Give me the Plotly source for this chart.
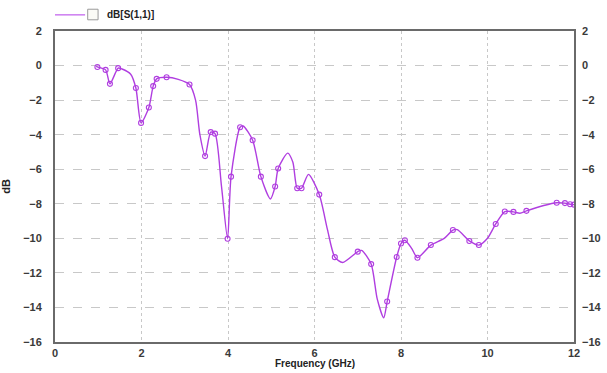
import plotly.graph_objects as go

# S11 return loss trace (frequency in GHz, magnitude in dB)
freq_ghz = [0.95, 0.98, 1.17, 1.27, 1.46, 1.55, 1.75, 1.87, 1.99, 2.17, 2.27, 2.35,
            2.58, 2.85, 3.11, 3.25, 3.35, 3.47, 3.6, 3.7, 3.85, 3.99, 4.07, 4.28,
            4.35, 4.57, 4.76, 4.98, 5.09, 5.16, 5.38, 5.5, 5.6, 5.7, 5.86, 6.11,
            6.3, 6.47, 6.65, 7.0, 7.09, 7.31, 7.45, 7.6, 7.68, 7.9, 8.0, 8.09,
            8.25, 8.38, 8.69, 9.0, 9.2, 9.3, 9.58, 9.8, 10.0, 10.19, 10.4, 10.6,
            10.75, 10.9, 11.3, 11.6, 11.79, 11.91, 12.0]
s11_db = [-0.05, -0.08, -0.25, -1.06, -0.15, -0.2, -0.5, -1.3, -3.32, -2.43, -1.19, -0.77,
          -0.68, -0.8, -1.1, -2.0, -4.0, -5.24, -3.85, -3.94, -7.0, -10.02, -6.43, -3.57,
          -3.5, -4.32, -6.43, -7.72, -7.0, -5.96, -5.07, -5.6, -7.1, -7.1, -6.3, -7.47,
          -9.5, -11.09, -11.4, -10.77, -10.7, -11.49, -13.5, -14.6, -13.66, -11.08, -10.3, -10.11,
          -10.6, -11.12, -10.39, -10.0, -9.52, -9.5, -10.15, -10.39, -10.0, -9.17, -8.45, -8.47,
          -8.55, -8.41, -8.1, -7.94, -7.96, -8.03, -8.05]

# Sampled solution points shown with markers
marker_ghz = [0.98, 1.17, 1.27, 1.46, 1.87, 1.99, 2.17, 2.27, 2.35, 2.58, 3.11, 3.47,
              3.6, 3.7, 3.99, 4.07, 4.28, 4.57, 4.76, 5.09, 5.16, 5.6, 5.7, 6.11,
              6.47, 7.0, 7.31, 7.68, 7.9, 8.0, 8.09, 8.38, 8.69, 9.2, 9.58, 9.8,
              10.19, 10.4, 10.6, 10.9, 11.6, 11.79, 11.91, 12.0]
marker_db = [-0.08, -0.25, -1.06, -0.15, -1.3, -3.32, -2.43, -1.19, -0.77, -0.68, -1.1, -5.24,
             -3.85, -3.94, -10.02, -6.43, -3.57, -4.32, -6.43, -7.0, -5.96, -7.1, -7.1, -7.47,
             -11.09, -10.77, -11.49, -13.66, -11.08, -10.3, -10.11, -11.12, -10.39, -9.52, -10.15, -10.39,
             -9.17, -8.45, -8.47, -8.41, -7.94, -7.96, -8.03, -8.05]

x_ticks = [0, 2, 4, 6, 8, 10, 12]
y_ticks = [2, 0, -2, -4, -6, -8, -10, -12, -14, -16]

LINE = "#b03ee0"
tick_font = dict(family="Liberation Sans", size=11, color="#3a3a3a", weight="bold")
title_font = dict(family="Liberation Sans", size=11, color="#222", weight="bold")

fig = go.Figure()
fig.add_trace(go.Scatter(
    x=freq_ghz, y=s11_db, mode="lines",
    line=dict(color=LINE, width=1.4, shape="spline", smoothing=0.7),
    showlegend=False, hoverinfo="skip"))
fig.add_trace(go.Scatter(
    x=marker_ghz, y=marker_db, mode="markers",
    marker=dict(symbol="circle-open", size=5, color=LINE, line=dict(width=1.1)),
    showlegend=False))
# invisible trace to drive the right-hand axis
fig.add_trace(go.Scatter(x=[None], y=[None], yaxis="y2", showlegend=False))

grid = "#c8c8c8"
fig.update_layout(
    width=607, height=373,
    margin=dict(l=55, r=33, t=31, b=31, autoexpand=False),
    paper_bgcolor="white", plot_bgcolor="white",
    xaxis=dict(range=[0, 12], tickvals=x_ticks, showgrid=True, gridcolor=grid,
               griddash="dot", gridwidth=1, zeroline=False, automargin=False,
               showline=True, linecolor="#6a6a6a", linewidth=2, mirror=True,
               ticks="", tickfont=tick_font, ticklabelstandoff=0),
    yaxis=dict(range=[-16, 2], tickvals=y_ticks, showgrid=True, gridcolor=grid,
               griddash="dash", gridwidth=1, zeroline=False, automargin=False,
               showline=True, linecolor="#6a6a6a", linewidth=2, mirror=True,
               ticks="", tickfont=tick_font, ticklabelstandoff=9,
               title=dict(text="dB", standoff=12, font=title_font)),
    yaxis2=dict(range=[-16, 2], tickvals=y_ticks, overlaying="y", side="right",
                showgrid=False, zeroline=False, ticks="", tickfont=tick_font,
                ticklabelstandoff=7, automargin=False),
    shapes=[
        dict(type="line", xref="paper", yref="paper", x0=0.0, x1=0.058,
             y0=1.052, y1=1.052, line=dict(color="#cc7cf0", width=1.5)),
        dict(type="rect", xref="paper", yref="paper", x0=0.063, x1=0.083,
             y0=1.036, y1=1.07, line=dict(color="#9a9a9a", width=1),
             fillcolor="#fbfbf6"),
    ],
    annotations=[
        dict(text="dB[S(1,1)]", xref="paper", yref="paper", x=0.096, y=1.053,
             xanchor="left", yanchor="middle", showarrow=False,
             font=dict(family="Liberation Sans", size=10, color="#222",
                       weight="bold")),
        # x-axis title, sitting just under the tick labels
        dict(text="Frequency (GHz)", xref="paper", yref="paper", x=0.5, y=-0.093,
             xanchor="center", yanchor="bottom", showarrow=False,
             font=dict(family="Liberation Sans", size=10, color="#222",
                       weight="bold")),
    ],
)

fig.write_html("out.html")
